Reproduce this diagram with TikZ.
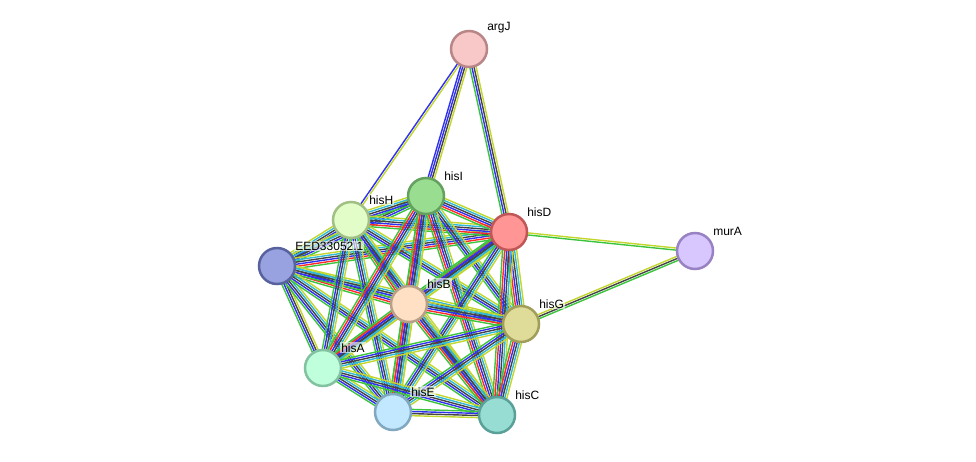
\documentclass[tikz,border=0pt]{standalone}
\usepackage{fontspec}
\setmainfont{Liberation Sans}
\usetikzlibrary{calc, backgrounds}

% edge colours
\definecolor{sgreen}{HTML}{3CC43C}
\definecolor{sred}{HTML}{FF2A2A}
\definecolor{sblue}{HTML}{3030F0}
\definecolor{sblack}{HTML}{444444}
\definecolor{scyan}{HTML}{2FB8D8}
\definecolor{syellow}{HTML}{C2D62E}
% node colours
\definecolor{fArgJ}{HTML}{F8C8C8}\definecolor{dArgJ}{HTML}{B88686}
\definecolor{fHisI}{HTML}{99DD90}\definecolor{dHisI}{HTML}{64A05E}
\definecolor{fHisH}{HTML}{E2FDC8}\definecolor{dHisH}{HTML}{A0C084}
\definecolor{fHisD}{HTML}{FF9595}\definecolor{dHisD}{HTML}{C05656}
\definecolor{fMurA}{HTML}{D8C6FF}\definecolor{dMurA}{HTML}{9882C2}
\definecolor{fEED}{HTML}{98A2E0}\definecolor{dEED}{HTML}{58629E}
\definecolor{fHisB}{HTML}{FFE0C4}\definecolor{dHisB}{HTML}{B8A088}
\definecolor{fHisG}{HTML}{DEDC98}\definecolor{dHisG}{HTML}{A09E58}
\definecolor{fHisA}{HTML}{C0FFDC}\definecolor{dHisA}{HTML}{82C2A0}
\definecolor{fHisE}{HTML}{C2E8FF}\definecolor{dHisE}{HTML}{80A8C0}
\definecolor{fHisC}{HTML}{98DDD4}\definecolor{dHisC}{HTML}{58A098}

% bundle of parallel lines between two proteins
\newcommand{\stredge}[3]{%
  \foreach \lc [count=\k] in {#3} {\xdef\nlines{\k}}%
  \foreach \lc [count=\i] in {#3} {%
    \pgfmathsetmacro{\off}{(\i-(\nlines+1)/2)*2.1}%
    \draw[draw=\lc, line width=1.4pt] ($(#1)!\off pt!90:(#2)$) -- ($(#2)!\off pt!-90:(#1)$);
  }}

\begin{document}
\begin{tikzpicture}[x=1pt, y=-1pt,
    prot/.style={circle, minimum size=36pt, inner sep=0pt, line width=2.5pt},
    lbl/.style={font=\fontsize{12}{14}\selectfont, inner sep=1pt, fill=white,
      fill opacity=0.6, text opacity=1, xshift=3.5pt, yshift=1pt}]
    \useasboundingbox (0,0) rectangle (976,461);

    % Proteins
    \node[prot, fill=fArgJ, draw=dArgJ, label={[lbl]45:argJ}] (argJ) at (469,49) {};
    \node[prot, fill=fHisI, draw=dHisI, label={[lbl]45:hisI}] (hisI) at (426,196) {};
    \node[prot, fill=fHisH, draw=dHisH, label={[lbl]45:hisH}] (hisH) at (351,220) {};
    \node[prot, fill=fHisD, draw=dHisD, label={[lbl]45:hisD}] (hisD) at (509,232) {};
    \node[prot, fill=fMurA, draw=dMurA, label={[lbl]45:murA}] (murA) at (695,251) {};
    \node[prot, fill=fEED, draw=dEED, label={[lbl]45:EED33052.1}] (eed) at (277,266) {};
    \node[prot, fill=fHisB, draw=dHisB, label={[lbl]45:hisB}] (hisB) at (409,304) {};
    \node[prot, fill=fHisG, draw=dHisG, label={[lbl]45:hisG}] (hisG) at (521,324) {};
    \node[prot, fill=fHisA, draw=dHisA, label={[lbl]45:hisA}] (hisA) at (323,368) {};
    \node[prot, fill=fHisE, draw=dHisE, label={[lbl]45:hisE}] (hisE) at (393,412) {};
    \node[prot, fill=fHisC, draw=dHisC, label={[lbl]45:hisC}] (hisC) at (497,415) {};

    \begin{pgfonlayer}{background}
    % Outer links
    \stredge{argJ}{hisH}{sblue, syellow}
    \stredge{argJ}{hisI}{sblue, sblue, sblack, syellow}
    \stredge{argJ}{hisD}{sgreen, sblue, sblack, syellow}
    \stredge{hisD}{murA}{sgreen, syellow}
    \stredge{hisG}{murA}{sgreen, sblack, syellow}

    % Histidine cluster
    \stredge{eed}{hisH}{sgreen, sblue, sblack, scyan, syellow}
    \stredge{eed}{hisI}{sgreen, sblue, sblack, scyan, syellow}
    \stredge{eed}{hisD}{sgreen, sred, sblue, sblack, scyan, syellow}
    \stredge{eed}{hisB}{sgreen, sred, sblue, sblack, scyan, syellow}
    \stredge{eed}{hisG}{sgreen, sblue, sblack, scyan, syellow}
    \stredge{eed}{hisA}{sgreen, sblue, sblack, syellow}
    \stredge{eed}{hisE}{sgreen, sblue, sblack, scyan, syellow}
    \stredge{eed}{hisC}{sgreen, sblue, sblack, scyan, syellow}
    \stredge{hisH}{hisI}{sgreen, sblue, sblack, scyan, syellow}
    \stredge{hisH}{hisD}{sgreen, sred, sblue, sblack, scyan, syellow}
    \stredge{hisH}{hisB}{sgreen, sred, sblue, sblack, scyan, syellow}
    \stredge{hisH}{hisG}{sgreen, sblue, sblack, scyan, syellow}
    \stredge{hisH}{hisA}{sgreen, sblue, sblack, scyan, syellow}
    \stredge{hisH}{hisE}{sgreen, sblue, sblack, scyan, syellow}
    \stredge{hisH}{hisC}{sgreen, sblue, sblack, scyan, syellow}
    \stredge{hisI}{hisD}{sgreen, sred, sblue, sblack, scyan, syellow}
    \stredge{hisI}{hisB}{sgreen, sred, sblue, sblack, scyan, syellow}
    \stredge{hisI}{hisG}{sgreen, sblue, sblack, scyan, syellow}
    \stredge{hisI}{hisA}{sgreen, sred, sblue, sblack, scyan, syellow}
    \stredge{hisI}{hisE}{sgreen, sred, sblue, sblack, scyan, syellow}
    \stredge{hisI}{hisC}{sgreen, sred, sblue, sblack, scyan, syellow}
    \stredge{hisD}{hisB}{sgreen, sred, sblue, sblack, scyan, syellow}
    \stredge{hisD}{hisG}{sgreen, sred, sblue, sblack, scyan, syellow}
    \stredge{hisD}{hisA}{sgreen, sblue, sblack, scyan, syellow}
    \stredge{hisD}{hisE}{sgreen, sblue, sblack, scyan, syellow}
    \stredge{hisD}{hisC}{sgreen, sred, sblue, sblack, scyan, syellow}
    \stredge{hisB}{hisG}{sgreen, sred, sblue, sblack, scyan, syellow}
    \stredge{hisB}{hisA}{sgreen, sred, sblue, sblack, scyan, syellow}
    \stredge{hisB}{hisE}{sgreen, sred, sblue, sblack, scyan, syellow}
    \stredge{hisB}{hisC}{sgreen, sred, sblue, sblack, scyan, syellow}
    \stredge{hisG}{hisA}{sgreen, sblue, sblack, scyan, syellow}
    \stredge{hisG}{hisE}{sgreen, sblue, sblack, scyan, syellow}
    \stredge{hisG}{hisC}{sgreen, sred, sblue, sblack, scyan, syellow}
    \stredge{hisA}{hisE}{sgreen, sblue, sblack, scyan, syellow}
    \stredge{hisA}{hisC}{sgreen, sblue, sblack, scyan, syellow}
    \stredge{hisE}{hisC}{syellow, sblack, sblue, sgreen}
    \end{pgfonlayer}
\end{tikzpicture}
\end{document}
